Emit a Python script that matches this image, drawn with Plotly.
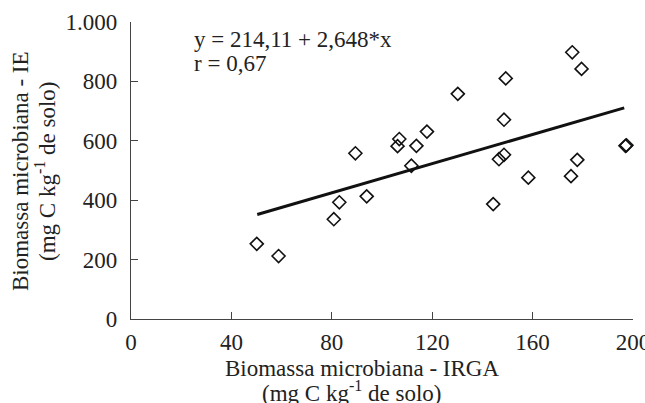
import plotly.graph_objects as go

# Data
irga = [175.8, 179.5, 149.3, 130.2, 148.6, 117.9, 106.9, 106.2, 113.7, 89.4,
        197.0, 197.4, 148.6, 146.6, 177.8, 111.7, 158.3, 175.3, 93.9, 83.0,
        80.8, 144.3, 50.1, 58.8]
ie = [898, 842, 810, 758, 671, 631, 606, 582, 583, 558,
      583, 585, 553, 538, 536, 516, 476, 481, 413, 393,
      336, 387, 253, 212]

fit_x = [50.3, 196.5]
fit_y = [352, 711]

x_ticks = [0, 40, 80, 120, 160, 200]
x_ticktext = ["0", "40", "80", "120", "160", "200"]
y_ticks = [0, 200, 400, 600, 800, 1000]
y_ticktext = ["0", "200", "400", "600", "800", "1.000"]

FONT = "Liberation Serif"
FS = 23
TXT = "#222222"
AX = "#444444"

W, H = 645, 403
L, T = 131, 22
PW, PH = 502, 297
R = W - L - PW
B = H - T - PH

fig = go.Figure()
fig.add_trace(go.Scatter(
    x=fit_x, y=fit_y, mode="lines",
    line=dict(color="#111111", width=3), showlegend=False, hoverinfo="skip"))
fig.add_trace(go.Scatter(
    x=irga, y=ie, mode="markers",
    marker=dict(symbol="diamond-open", size=10, color="#111111",
                line=dict(width=1.6, color="#111111")),
    showlegend=False, cliponaxis=False))

fig.update_layout(
    width=W, height=H,
    margin=dict(l=L, r=R, t=T, b=B, autoexpand=False),
    paper_bgcolor="white", plot_bgcolor="white",
    font=dict(family=FONT, size=FS, color=TXT),
    xaxis=dict(range=[0, 200], tickvals=x_ticks, ticktext=x_ticktext,
               ticks="inside", ticklen=7, tickwidth=1, tickcolor=AX,
               showline=True, linecolor=AX, linewidth=1.2,
               showgrid=False, zeroline=False, ticklabelstandoff=2,
               ticklabeloverflow="allow", automargin=False,
               tickfont=dict(family=FONT, size=FS, color=TXT)),
    yaxis=dict(range=[0, 1000], tickvals=y_ticks, ticktext=y_ticktext,
               ticks="inside", ticklen=7, tickwidth=1, tickcolor=AX,
               showline=True, linecolor=AX, linewidth=1.2,
               showgrid=False, zeroline=False, ticklabelstandoff=8,
               ticklabeloverflow="allow", automargin=False,
               tickfont=dict(family=FONT, size=FS, color=TXT)),
)

def px_x(p):
    return (p - L) / PW

def px_y(p):
    return (H - B - p) / PH

anns = [
    dict(text="y = 214,11 + 2,648*x", x=px_x(192), y=px_y(40), xanchor="left", yanchor="middle"),
    dict(text="r = 0,67", x=px_x(192), y=px_y(63), xanchor="left", yanchor="middle"),
    dict(text="Biomassa microbiana - IRGA", x=px_x(362), y=px_y(369), xanchor="center", yanchor="middle"),
    dict(text="(mg C kg<sup>-1</sup> de solo)", x=px_x(352), y=px_y(392), xanchor="center", yanchor="middle"),
    dict(text="Biomassa microbiana - IE", x=px_x(20), y=px_y(171), xanchor="center", yanchor="middle", textangle=-90),
    dict(text="(mg C kg<sup>-1</sup> de solo)", x=px_x(45), y=px_y(171), xanchor="center", yanchor="middle", textangle=-90),
]
for a in anns:
    fig.add_annotation(xref="paper", yref="paper", showarrow=False,
                       font=dict(family=FONT, size=FS, color=TXT), **a)

fig.write_html(
    "out.html",
    config={"displayModeBar": False},
    post_script="document.body.style.margin='0';document.body.style.overflow='hidden';",
)
